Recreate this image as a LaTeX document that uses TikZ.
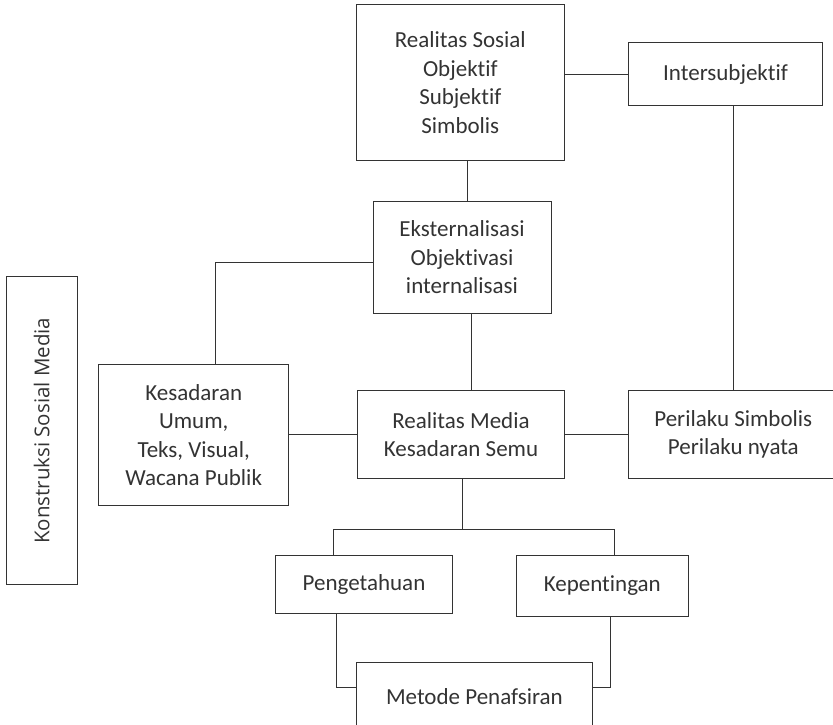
\documentclass[tikz,border=0pt]{standalone}
\usepackage{fontspec}
\setmainfont{Carlito}[Ligatures=NoCommon]
\newfontfamily\konsfont{Open Sans}
\usepackage{xcolor}
\definecolor{dGray}{gray}{0.2}

\tikzset{
  kotak/.style={draw=dGray, line width=1pt, align=center, inner sep=0pt, text=dGray,
    font=\fontsize{23}{28.5}\selectfont},
  garis/.style={draw=dGray, line width=1pt}
}

\begin{document}
\begin{tikzpicture}[x=1pt, y=-1pt]
        \useasboundingbox (0,0) rectangle (833,724);
        \node [kotak, minimum width=207.5, minimum height=156.4] (sosial) at (460.3,82.5)
              {Realitas Sosial\\Objektif\\Subjektif\\Simbolis};
        \node [kotak, minimum width=194, minimum height=62.6] (inter) at (725.5,74) {Intersubjektif};
        \node [kotak, minimum width=178, minimum height=111.6] (ekst) at (462,257.5)
              {Eksternalisasi\\Objektivasi\\internalisasi};
        \node [kotak, minimum width=189.7, minimum height=140.7] (kesadaran) at (193.7,435.3)
              {Kesadaran\\Umum,\\Teks, Visual,\\Wacana Publik};
        \node [kotak, minimum width=206.7, minimum height=87.6] (media) at (461,434.5)
              {Realitas Media\\Kesadaran Semu};
        \node [kotak, minimum width=209.4, minimum height=87.6] (perilaku) at (733.3,434.5)
              {Perilaku Simbolis\\Perilaku nyata};
        \node [kotak, rotate=90, minimum width=308.3, minimum height=70.4,
               font=\konsfont\fontsize{20.5}{24}\selectfont] (konstruksi) at (41.8,430.8)
              {Konstruksi Sosial Media};
        \node [kotak, minimum width=176.4, minimum height=58.3] (pengetahuan) at (364,584.2) {Pengetahuan};
        \node [kotak, minimum width=172.6, minimum height=61.3] (kepentingan) at (602.3,585.7) {Kepentingan};
        \node [kotak, minimum width=236.7, minimum height=67.3] (metode) at (474.4,696.4) {Metode Penafsiran};
        \coordinate (cabang) at (462.8,529.3);

        % garis penghubung
        \draw [garis] (inter.west) -- (inter.west -| sosial.east);
        \draw [garis] ([xshift=7]sosial.south) -- ([xshift=7]sosial.south |- ekst.north);
        \draw [garis] ([yshift=-5]ekst.west) -| ([xshift=22]kesadaran.north);
        \draw [garis] ([xshift=9]ekst.south) -- ([xshift=9]ekst.south |- media.north);
        \draw [garis] (perilaku.north) -- (perilaku.north |- inter.south);
        \draw [garis] (media.west) -- (media.west -| kesadaran.east);
        \draw [garis] (media.east) -- (perilaku.west);
        \draw [garis] (media.south -| cabang) -- (cabang);
        \draw [garis] ([xshift=-31]pengetahuan.north) |- (cabang) -| ([xshift=12.5]kepentingan.north);
        \draw [garis] ([xshift=-28]pengetahuan.south) |- ([yshift=8.7]metode.west);
        \draw [garis] ([xshift=8.4]kepentingan.south) |- ([yshift=8.7]metode.east);
      \end{tikzpicture}
\end{document}
